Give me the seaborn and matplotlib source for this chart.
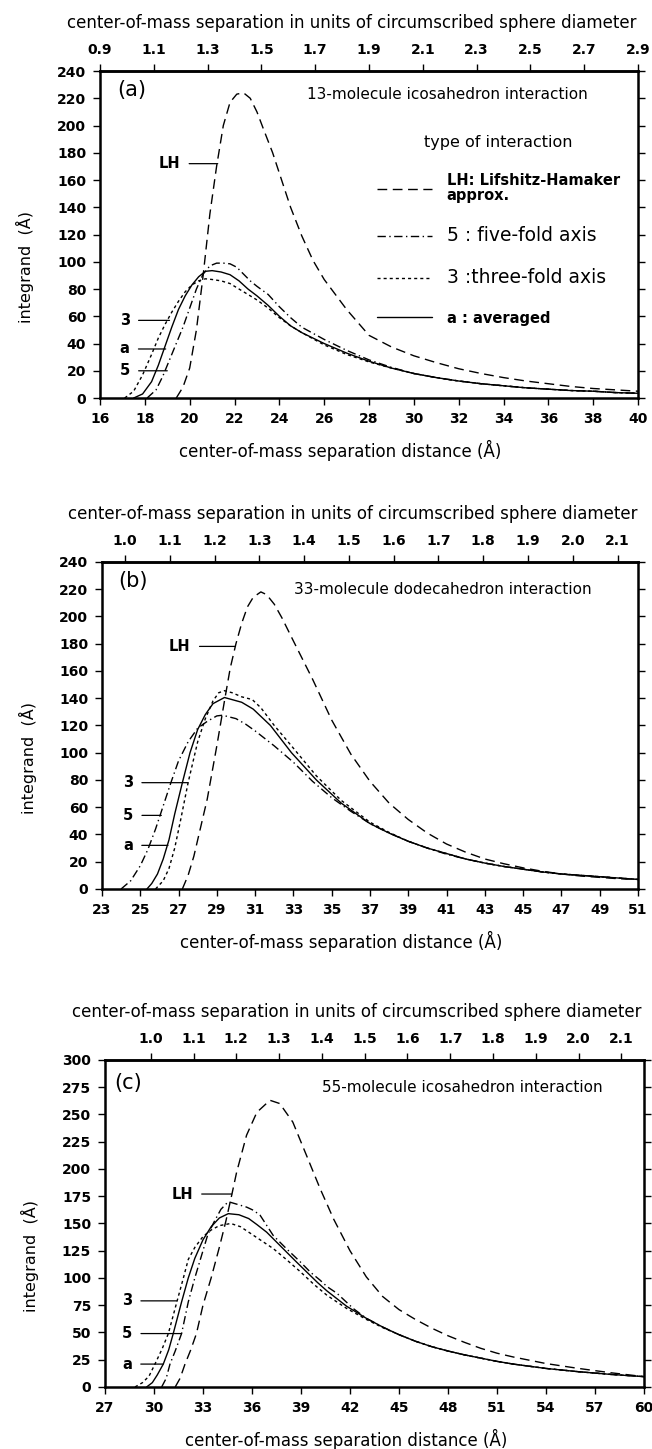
import numpy as np
import pandas as pd
import seaborn as sns
import matplotlib.pyplot as plt
from matplotlib.ticker import FormatStrFormatter

# ---- panel (a): 13-molecule icosahedron ----
a_lh_x = [19.4, 19.7, 20.0, 20.3, 20.6, 20.9, 21.2, 21.5, 21.8, 22.1, 22.4, 22.7, 23.0, 23.3, 23.7,
          24.0, 24.5, 25.0, 25.5, 26.0, 27.0, 28.0, 29.0, 30.0, 31.0, 32.0, 33.0, 34.0, 35.0, 36.0,
          37.0, 38.0, 39.0, 40.0]
a_lh_y = [0, 8, 22, 50, 90, 135, 170, 200, 217, 223, 224, 220, 210, 197, 180,
          165, 140, 119, 101, 87, 65, 46, 37.5, 31, 26, 21.5, 18, 15, 12.5, 10.5,
          8.5, 7, 6, 5]
a_five_x = [18.1, 18.5, 18.8, 19.1, 19.4, 19.7, 20.0, 20.3, 20.6, 20.9, 21.2, 21.5, 21.8, 22.1, 22.4,
            22.7, 23.0, 23.5, 24.0, 24.5, 25.0, 26.0, 27.0, 28.0, 29.0, 30.0, 31.0, 32.0, 33.0, 34.0,
            35.0, 36.0, 37.0, 38.0, 39.0, 40.0]
a_five_y = [0, 6, 16, 28, 40, 52, 66, 80, 91, 97, 99, 99, 98.5, 96, 91,
            86, 82, 76, 67, 59, 52, 43, 35, 28, 22.5, 18, 15, 12.5, 10.5, 9,
            7.5, 6.5, 5.5, 5, 4, 3.5]
a_three_x = [17.1, 17.5, 17.9, 18.3, 18.6, 18.9, 19.2, 19.5, 19.8, 20.1, 20.4, 20.7, 21.0, 21.4, 21.8,
             22.2, 22.6, 23.0, 23.5, 24.0, 24.5, 25.0, 26.0, 27.0, 28.0, 29.0, 30.0, 31.0, 32.0, 33.0,
             34.0, 35.0, 36.0, 37.0, 38.0, 39.0, 40.0]
a_three_y = [0, 5, 17, 32, 44, 54, 63, 71, 78, 83, 86, 87.5, 87, 86, 84,
             80, 76, 72, 66, 59, 53, 48, 39, 32, 26.5, 22, 18, 15, 12.5, 10.5,
             9, 7.5, 6.5, 5.5, 5, 4, 3.5]
a_avg_x = [17.5, 17.9, 18.3, 18.6, 18.9, 19.2, 19.5, 19.8, 20.1, 20.4, 20.7, 21.0, 21.4, 21.8, 22.2,
           22.6, 23.0, 23.5, 24.0, 24.5, 25.0, 26.0, 27.0, 28.0, 29.0, 30.0, 31.0, 32.0, 33.0, 34.0,
           35.0, 36.0, 37.0, 38.0, 39.0, 40.0]
a_avg_y = [0, 3, 12, 24, 38, 52, 65, 75, 83, 89, 93, 93.5, 92.5, 90.5, 86,
           80, 75, 68, 60, 53, 48, 40, 33, 27, 22, 18, 15, 12.5, 10.5, 9,
           7.5, 6.5, 5.5, 5, 4, 3.5]

# ---- panel (b): 33-molecule dodecahedron ----
b_lh_x = [27.2, 27.5, 27.8, 28.1, 28.5, 29.0, 29.4, 29.7, 30.0, 30.3, 30.6, 30.9, 31.3, 31.6, 32.0,
          32.4, 33.0, 33.5, 34.0, 35.0, 36.0, 37.0, 38.0, 39.0, 40.0, 41.0, 42.0, 43.0, 44.0, 45.0,
          46.0, 47.0, 48.0, 49.0, 50.0, 51.0]
b_lh_y = [0, 10, 24, 42, 66, 105, 138, 162, 180, 195, 207, 214, 218, 216, 209,
          199, 182, 168, 154, 124, 99, 79, 63, 51, 41, 33, 27, 22, 18.5, 15.5,
          13, 11, 9.5, 8.5, 7.5, 7]
b_five_x = [24.0, 24.5, 25.0, 25.4, 25.8, 26.2, 26.6, 27.0, 27.5, 28.0, 28.5, 29.0, 29.3, 30.0, 30.5,
            31.0, 32.0, 33.0, 34.0, 35.0, 36.0, 37.0, 38.0, 39.0, 40.0, 41.0, 42.0, 43.0, 44.0, 45.0,
            46.0, 47.0, 48.0, 49.0, 50.0, 51.0]
b_five_y = [0, 6, 17, 29, 44, 61, 78, 94, 108, 118, 123, 127, 127.5, 125, 121,
            116, 105, 93, 79, 67, 57, 48, 41, 35, 30, 25.5, 22, 19, 16.5, 14.5,
            12.5, 11, 10, 9, 8, 7]
b_three_x = [25.8, 26.2, 26.5, 26.8, 27.1, 27.5, 28.0, 28.4, 28.8, 29.1, 29.4, 29.8, 30.3, 30.85, 31.3,
             32.0, 32.9, 34.2, 35.5, 37.0, 38.0, 39.0, 40.0, 41.0, 42.0, 43.0, 44.0, 45.0, 46.0, 47.0,
             48.0, 49.0, 50.0, 51.0]
b_three_y = [0, 6, 15, 30, 50, 78, 108, 125, 138, 144, 145.5, 144, 141, 139, 133,
             120, 105, 83, 65, 49, 41.5, 35, 30, 26, 22, 19, 16.5, 14.5, 12.5, 11,
             10, 9, 8, 7]
b_avg_x = [25.35, 25.6, 25.9, 26.2, 26.5, 26.8, 27.2, 27.6, 28.0, 28.4, 28.8, 29.4, 30.3, 30.9, 31.8,
           32.9, 34.2, 35.5, 37.0, 38.0, 39.0, 40.0, 41.0, 42.0, 43.0, 44.0, 45.0, 46.0, 47.0, 48.0,
           49.0, 50.0, 51.0]
b_avg_y = [0, 4, 11, 22, 36, 55, 78, 100, 117, 128, 136, 140.5, 137, 132, 120,
           100, 80, 63, 48, 41, 35, 30, 26, 22, 19, 16.5, 14.5, 12.5, 11, 10,
           9, 8, 7]

# ---- panel (c): 55-molecule icosahedron ----
c_lh_x = [31.3, 31.6, 31.9, 32.25, 32.6, 33.0, 33.5, 34.0, 34.4, 34.76, 35.06, 35.67, 36.3, 37.1, 37.7,
          38.5, 39.35, 40.17, 41.0, 42.0, 43.0, 44.0, 45.0, 46.0, 47.0, 48.0, 49.0, 50.0, 51.0, 52.0,
          54.0, 56.0, 58.0, 60.0]
c_lh_y = [0, 8, 21, 34, 49, 75, 100, 128, 152, 176, 197, 231, 252, 263, 260,
          243, 212, 182, 154, 125, 101, 83, 71, 62, 54, 47, 41, 35.5, 31, 27.5,
          21.5, 17, 13, 9.5]
c_five_x = [30.47, 30.75, 30.98, 31.3, 31.69, 32.1, 32.5, 32.9, 33.3, 33.7, 34.1, 34.55, 35.0, 35.67, 36.1,
            36.5, 37.3, 38.1, 38.94, 39.6, 40.17, 40.6, 41.2, 42.2, 43.0, 44.0, 45.0, 46.0, 47.0, 48.0,
            49.0, 50.0, 51.0, 52.0, 54.0, 56.0, 58.0, 60.0]
c_five_y = [0, 8, 21, 33, 49, 78, 100, 120, 140, 152, 163, 170, 168, 165, 162,
            157.5, 139, 127, 115, 105, 98, 92, 86, 72, 63, 55, 48, 42, 37, 33,
            29.5, 26.5, 23.5, 21, 17, 14, 11.5, 9.5]
c_three_x = [28.84, 29.3, 29.7, 30.06, 30.5, 30.88, 31.4, 31.8, 32.1, 32.5, 33.0, 33.5, 34.0, 34.7, 35.3,
             35.8, 36.5, 37.3, 38.1, 38.94, 39.8, 40.6, 41.8, 43.0, 44.0, 45.0, 46.0, 47.0, 48.0, 49.0,
             50.0, 51.0, 52.0, 54.0, 56.0, 58.0, 60.0]
c_three_y = [0, 4, 10, 21, 35, 49, 78, 100, 117, 128, 138, 144, 148, 150, 147,
             142, 135, 127, 117, 106, 94, 84, 72, 62, 54.5, 48, 42, 37, 33, 29.5,
             26.5, 23.5, 21, 17, 14, 11.5, 9.5]
c_avg_x = [29.55, 29.9, 30.2, 30.57, 30.9, 31.18, 31.69, 32.1, 32.5, 33.0, 33.5, 34.0, 34.55, 35.2, 35.8,
           36.3, 36.9, 37.5, 38.1, 38.7, 39.35, 40.0, 40.6, 41.8, 43.0, 44.0, 45.0, 46.0, 47.0, 48.0,
           49.0, 50.0, 51.0, 52.0, 54.0, 56.0, 58.0, 60.0]
c_avg_y = [0, 4, 11, 21, 34, 49, 78, 100, 118, 135, 147, 155, 159, 158, 154.5,
           149, 142, 133, 124, 115, 105.5, 96, 88, 74, 63, 55, 48, 42, 37, 33,
           29.5, 26.5, 23.5, 21, 17, 14, 11.5, 9.5]

# curve labels with leader lines: text, text x, y, tip x
a_lab_text = ["LH", "3", "a", "5"]
a_lab_x = [19.1, 17.1, 17.1, 17.1]
a_lab_y = [172, 57, 36, 20]
a_lab_tip = [21.25, 19.1, 18.93, 19.0]
b_lab_text = ["LH", "3", "5", "a"]
b_lab_x = [27.07, 24.36, 24.36, 24.36]
b_lab_y = [178, 78, 54, 32]
b_lab_tip = [29.96, 27.5, 26.1, 26.45]
c_lab_text = ["LH", "3", "5", "a"]
c_lab_x = [31.72, 28.35, 28.35, 28.35]
c_lab_y = [177, 79, 49, 21]
c_lab_tip = [34.76, 31.39, 31.69, 30.57]

top_title = "center-of-mass separation in units of circumscribed sphere diameter"
bottom_title = "center-of-mass separation distance (Å)"
y_title = "integrand  (Å)"

sns.set_theme(style="ticks")
plt.rcParams["font.family"] = ["DejaVu Sans"]
plt.rcParams["axes.linewidth"] = 1.8
plt.rcParams["axes.edgecolor"] = "black"
plt.rcParams["text.color"] = "black"
plt.rcParams["axes.labelcolor"] = "black"
plt.rcParams["xtick.color"] = "black"
plt.rcParams["ytick.color"] = "black"

LS = {"LH": (0, (7, 4)), "5": (0, (6, 2.5, 1, 2.5)), "3": (0, (2.2, 2.2)), "a": "-"}

fig = plt.figure(figsize=(6.52, 14.49), dpi=100)


def panel(rect, curves, xlim, xticks, ylim, yticks, top_map, top_ticks,
          tag, tag_xy, title, title_xy, labs, legend=False):
    ax = fig.add_axes(rect)
    for key, xs, ys, name in curves:
        df = pd.DataFrame({"x": xs, "y": ys})
        sns.lineplot(data=df, x="x", y="y", ax=ax, color="black", lw=1.0,
                     linestyle=LS[key], label=name, legend=False)
    ax.set_xlim(*xlim)
    ax.set_ylim(*ylim)
    ax.set_xticks(xticks)
    ax.set_yticks(yticks)
    ax.tick_params(axis="both", direction="out", length=5, width=1,
                   labelsize=10, pad=5, right=True)
    for lbl in ax.get_xticklabels() + ax.get_yticklabels():
        lbl.set_fontweight("bold")
    ax.set_xlabel(bottom_title, fontsize=12, labelpad=10)
    ax.xaxis.label.set_x(0.447)
    ax.set_ylabel(y_title, fontsize=11.5)
    ax.yaxis.set_label_coords(-0.122, 0.4)

    x0, d0, k = top_map
    sec = ax.secondary_xaxis("top", functions=(lambda x: d0 + (x - x0) / k,
                                               lambda d: x0 + (d - d0) * k))
    sec.set_xticks(top_ticks)
    sec.xaxis.set_major_formatter(FormatStrFormatter("%.1f"))
    sec.tick_params(direction="out", length=5, width=1, labelsize=10, pad=5)
    for lbl in sec.get_xticklabels():
        lbl.set_fontweight("bold")
    sec.spines["top"].set_linewidth(1.8)
    sec.set_xlabel(top_title, fontsize=12, labelpad=11)
    sec.xaxis.label.set_x(0.468)

    ax.text(tag_xy[0], tag_xy[1], tag, fontsize=15, ha="center", va="center")
    ax.text(title_xy[0], title_xy[1], title, fontsize=11, ha="center", va="center")

    for t, tx, ty, tip in zip(*labs):
        ax.annotate(t, xy=(tip, ty), xytext=(tx, ty), fontsize=10.5, fontweight="bold",
                    ha="center", va="center",
                    arrowprops=dict(arrowstyle="-", lw=0.9, color="black",
                                    shrinkA=4, shrinkB=0))

    if legend:
        h, l = ax.get_legend_handles_labels()
        leg = ax.legend(h, l, title="type of interaction", loc="upper left",
                        bbox_to_anchor=(0.49, 0.845), frameon=False, handlelength=3.8,
                        handletextpad=1.0, labelspacing=1.6, fontsize=10.5,
                        title_fontsize=11.5)
        texts = leg.get_texts()
        texts[0].set_fontweight("bold")
        texts[0].set_linespacing(0.95)
        texts[1].set_fontsize(13.5)
        texts[2].set_fontsize(13.5)
        texts[3].set_fontweight("bold")
    return ax


panel([0.1534, 0.7253, 0.8252, 0.2257],
      [("LH", a_lh_x, a_lh_y, "LH: Lifshitz-Hamaker\napprox."),
       ("5", a_five_x, a_five_y, "5 : five-fold axis"),
       ("3", a_three_x, a_three_y, "3 :three-fold axis"),
       ("a", a_avg_x, a_avg_y, "a : averaged")],
      (16, 40), np.arange(16, 41, 2), (0, 240), np.arange(0, 241, 20),
      (16, 0.9, 12.0), np.round(np.arange(0.9, 2.95, 0.2), 1),
      "(a)", (17.4, 226), "13-molecule icosahedron interaction", (31.5, 223),
      (a_lab_text, a_lab_x, a_lab_y, a_lab_tip), legend=True)

panel([0.1564, 0.3865, 0.822, 0.2257],
      [("LH", b_lh_x, b_lh_y, None), ("5", b_five_x, b_five_y, None),
       ("3", b_three_x, b_three_y, None), ("a", b_avg_x, b_avg_y, None)],
      (23, 51), np.arange(23, 52, 2), (0, 240), np.arange(0, 241, 20),
      (24.2, 1.0, 23.4), np.round(np.arange(1.0, 2.15, 0.1), 1),
      "(b)", (24.6, 226), "33-molecule dodecahedron interaction", (40.8, 220),
      (b_lab_text, b_lab_x, b_lab_y, b_lab_tip))

panel([0.161, 0.0428, 0.8267, 0.2257],
      [("LH", c_lh_x, c_lh_y, None), ("5", c_five_x, c_five_y, None),
       ("3", c_three_x, c_three_y, None), ("a", c_avg_x, c_avg_y, None)],
      (27, 60), np.arange(27, 61, 3), (0, 300), np.arange(0, 301, 25),
      (29.8, 1.0, 26.2), np.round(np.arange(1.0, 2.15, 0.1), 1),
      "(c)", (28.4, 279), "55-molecule icosahedron interaction", (48.85, 275),
      (c_lab_text, c_lab_x, c_lab_y, c_lab_tip))

fig.savefig("out.png", dpi=100)
